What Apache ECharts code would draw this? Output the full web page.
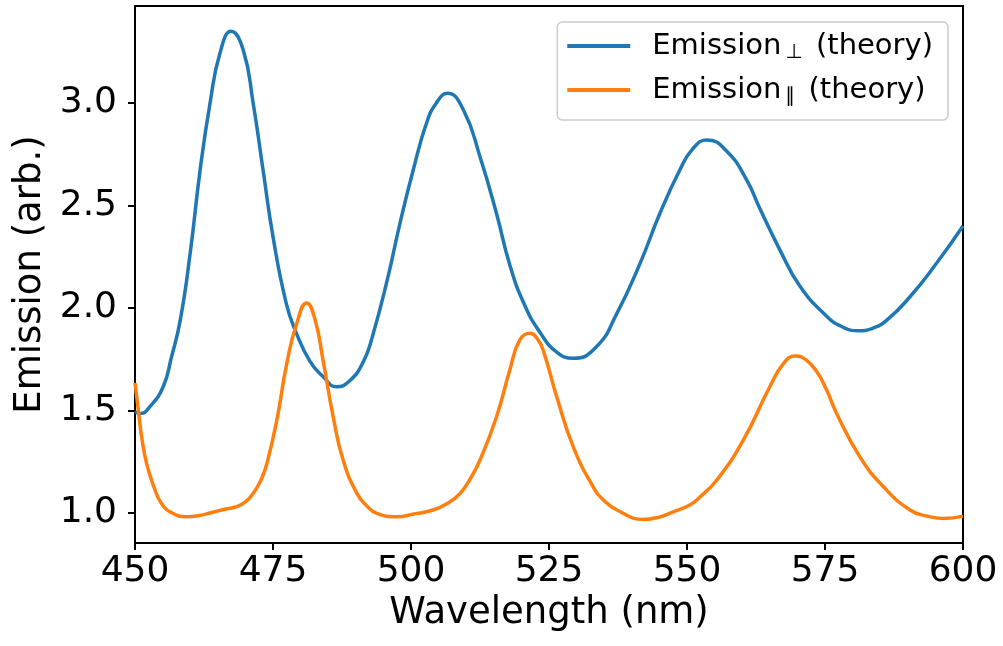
<!DOCTYPE html>
<html>
<head>
<meta charset="utf-8">
<script src="https://cdn.jsdelivr.net/npm/echarts@6/dist/echarts.min.js"></script>
<style>
html,body{margin:0;padding:0;background:#fff;}
#chart{width:1003px;height:646px;}
</style>
</head>
<body>
<div id="chart"></div>
<script>
// ---- data ----
const perpWavelength = [450.0,451.0,452.7,455.1,456.6,458.2,460.0,461.8,463.6,465.4,467.4,469.6,471.4,473.2,475.0,477.4,479.2,481.7,484.1,486.5,488.9,491.4,493.0,495.7,498.0,500.4,502.8,504.6,506.6,509.5,512.5,515.5,517.9,520.5,523.4,526.4,529.4,533.6,537.3,541.5,545.1,548.7,551.0,553.6,557.2,560.8,563.2,566.8,570.5,575.3,578.0,581.0,583.5,586.2,590.4,595.2,600.0];
const perpEmission   = [1.494,1.486,1.519,1.616,1.760,1.941,2.268,2.673,3.000,3.244,3.350,3.259,3.000,2.673,2.348,2.023,1.880,1.740,1.665,1.616,1.645,1.740,1.860,2.137,2.413,2.673,2.901,3.000,3.047,2.966,2.738,2.460,2.210,2.020,1.880,1.785,1.755,1.811,1.974,2.218,2.462,2.673,2.775,2.820,2.765,2.625,2.485,2.285,2.105,1.960,1.910,1.889,1.900,1.941,2.055,2.218,2.400];

const parWavelength = [450.0,450.6,451.2,452.1,453.3,454.8,456.9,459.4,462.0,464.2,466.5,468.4,470.0,471.4,472.8,473.9,475.7,477.5,479.3,481.1,482.6,484.1,485.9,487.7,490.2,492.0,493.8,497.4,500.5,504.0,506.5,508.9,510.8,512.5,515.5,517.9,519.7,521.6,523.0,524.0,526.4,529.4,533.0,535.0,537.3,542.1,545.0,547.5,550.5,552.4,555.4,560.2,565.0,567.5,569.6,571.5,573.5,575.3,577.1,581.3,585.6,590.4,593.5,596.4,600.0];
const parEmission   = [1.635,1.502,1.372,1.242,1.137,1.047,0.998,0.982,0.990,1.005,1.020,1.031,1.055,1.096,1.160,1.242,1.454,1.730,1.925,2.025,1.945,1.740,1.470,1.259,1.096,1.035,0.999,0.982,0.995,1.015,1.045,1.096,1.170,1.259,1.470,1.698,1.844,1.877,1.845,1.790,1.567,1.323,1.128,1.060,1.015,0.969,0.980,1.006,1.039,1.080,1.161,1.356,1.616,1.730,1.766,1.748,1.690,1.600,1.486,1.275,1.128,1.015,0.985,0.974,0.985];

const yTicks = [1.0, 1.5, 2.0, 2.5, 3.0];
const xTicks = [450, 475, 500, 525, 550, 575, 600];
const seriesNames = ['Emission\u22a5', 'Emission\u2225'];

function pairs(xs, ys){ return xs.map((x,i)=>[x, ys[i]]); }

const FONT = 'DejaVu Sans';
const chart = echarts.init(document.getElementById('chart'), null, {renderer:'canvas'});
chart.setOption({
  animation:false,
  backgroundColor:'#ffffff',
  grid:{left:135, right:40, top:6, bottom:103, show:true, borderColor:'#000', borderWidth:2, backgroundColor:'transparent'},
  legend:{
    orient:'vertical',
    right:55, top:22,
    backgroundColor:'rgba(255,255,255,0.8)',
    borderColor:'#cccccc', borderWidth:1.5, borderRadius:5,
    padding:[7,15,13,10],
    itemWidth:63, itemHeight:4, itemGap:10,
    icon:'rect',
    data: seriesNames,
    formatter: function(name){
      return name === seriesNames[0]
        ? 'Emission{sub|\u22a5}{t| (theory)}'
        : 'Emission{sub|\u2225}{t| (theory)}';
    },
    textStyle:{
      fontFamily:FONT, fontSize:29, color:'#000', lineHeight:34,
      padding:[0,0,0,17],
      rich:{
        sub:{fontFamily:FONT, fontSize:20, lineHeight:14, verticalAlign:'bottom', padding:[0,4,0,4]},
        t:{fontFamily:FONT, fontSize:29, lineHeight:34}
      }
    }
  },
  xAxis:{
    type:'value', min:450, max:600, interval:25,
    name:'Wavelength (nm)', nameLocation:'middle', nameGap:52,
    nameTextStyle:{fontFamily:FONT, fontSize:37, color:'#000'},
    axisLine:{show:true, onZero:false, lineStyle:{color:'#000', width:2}},
    axisTick:{show:true, length:7, lineStyle:{color:'#000', width:2}, customValues:xTicks},
    axisLabel:{fontFamily:FONT, fontSize:36, color:'#000', margin:11, customValues:xTicks},
    splitLine:{show:false}
  },
  yAxis:{
    type:'value', min:0.854, max:3.473,
    name:'Emission (arb.)', nameLocation:'middle', nameGap:86, nameRotate:90,
    nameTextStyle:{fontFamily:FONT, fontSize:37, color:'#000'},
    axisLine:{show:true, onZero:false, lineStyle:{color:'#000', width:2}},
    axisTick:{show:true, length:7, lineStyle:{color:'#000', width:2}, customValues:yTicks},
    axisLabel:{fontFamily:FONT, fontSize:36, color:'#000', margin:18, customValues:yTicks,
      formatter:function(v){return Number(v).toFixed(1);}},
    splitLine:{show:false}
  },
  series:[
    {name:seriesNames[0], type:'line', data:pairs(perpWavelength, perpEmission), showSymbol:false, smooth:0.5,
     lineStyle:{color:'#1f77b4', width:3.5}, itemStyle:{color:'#1f77b4'}, clip:true},
    {name:seriesNames[1], type:'line', data:pairs(parWavelength, parEmission), showSymbol:false, smooth:0.5,
     lineStyle:{color:'#ff7f0e', width:3.5}, itemStyle:{color:'#ff7f0e'}, clip:true}
  ]
});
</script>
</body>
</html>
